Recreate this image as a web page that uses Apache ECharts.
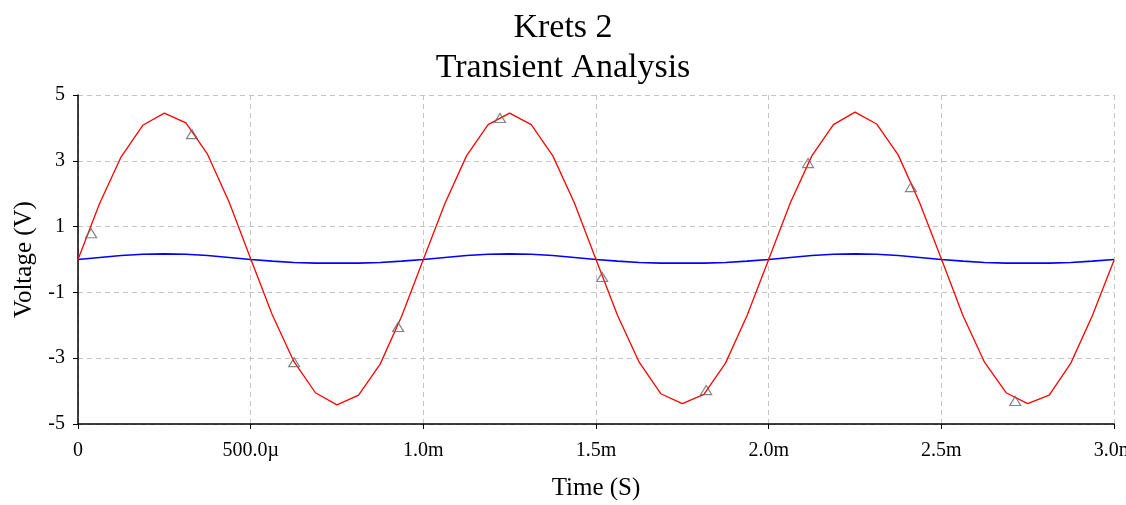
<!DOCTYPE html>
<html>
<head>
<meta charset="utf-8">
<title>Krets 2</title>
<script src="https://cdn.jsdelivr.net/npm/echarts@6/dist/echarts.min.js"></script>
<style>
  html, body { margin: 0; padding: 0; background: #fff; }
  #main { width: 1126px; height: 505px; }
</style>
</head>
<body>
<div id="main"></div>
<script>
// time in ms, one sample every 62.5 us
var times = [0, 0.0625, 0.125, 0.1875, 0.25, 0.3125, 0.375, 0.4375,
  0.5, 0.5625, 0.625, 0.6875, 0.75, 0.8125, 0.875, 0.9375,
  1.0, 1.0625, 1.125, 1.1875, 1.25, 1.3125, 1.375, 1.4375,
  1.5, 1.5625, 1.625, 1.6875, 1.75, 1.8125, 1.875, 1.9375,
  2.0, 2.0625, 2.125, 2.1875, 2.25, 2.3125, 2.375, 2.4375,
  2.5, 2.5625, 2.625, 2.6875, 2.75, 2.8125, 2.875, 2.9375, 3.0]

var redValues = [0.00, 1.70, 3.12, 4.08, 4.45, 4.15, 3.20, 1.75,
  0.02, -1.68, -3.10, -4.05, -4.42, -4.12, -3.18, -1.72,
  0.00, 1.70, 3.15, 4.10, 4.45, 4.10, 3.15, 1.72,
  0.00, -1.70, -3.12, -4.08, -4.38, -4.10, -3.15, -1.70,
  0.00, 1.72, 3.15, 4.10, 4.48, 4.12, 3.18, 1.72,
  0.02, -1.70, -3.12, -4.05, -4.38, -4.12, -3.15, -1.70, -0.02]

var blueValues = [0.00, 0.06, 0.12, 0.16, 0.17, 0.16, 0.12, 0.06,
  0.00, -0.05, -0.09, -0.11, -0.11, -0.11, -0.09, -0.05,
  0.00, 0.06, 0.12, 0.16, 0.17, 0.16, 0.12, 0.06,
  0.00, -0.05, -0.09, -0.11, -0.11, -0.11, -0.09, -0.05,
  0.00, 0.06, 0.12, 0.16, 0.17, 0.16, 0.12, 0.06,
  0.00, -0.05, -0.09, -0.11, -0.11, -0.11, -0.09, -0.05, 0.00]

// triangle markers on the red trace
var markerTimes = [0.038, 0.33, 0.626, 0.927, 1.222, 1.518, 1.819, 2.114, 2.412, 2.714]
var markerValues = [0.8, 3.81, -3.12, -2.05, 4.3, -0.53, -3.97, 2.93, 2.2, -4.3]

var xTickValues = [0, 0.5, 1.0, 1.5, 2.0, 2.5, 3.0]
var xTickLabels = ['0', '500.0\u00b5', '1.0m', '1.5m', '2.0m', '2.5m', '3.0m']
var yTickValues = [-5, -3, -1, 1, 3, 5]

var serif = '"Liberation Serif", "Times New Roman", serif'

var chartDom = document.getElementById('main')
var myChart = echarts.init(chartDom)
var option

option = {
  animation: false,
  title: [
    {
      text: 'Krets 2',
      left: 'center',
      top: 6,
      textStyle: { fontFamily: serif, fontSize: 34, fontWeight: 'normal', color: '#000' }
    },
    {
      text: 'Transient Analysis',
      left: 'center',
      top: 46,
      textStyle: { fontFamily: serif, fontSize: 34, fontWeight: 'normal', color: '#000' }
    }
  ],
  grid: {
    left: 78,
    right: 12,
    top: 95,
    bottom: 81,
    outerBoundsMode: 'none'
  },
  xAxis: {
    type: 'value',
    min: 0,
    max: 3,
    interval: 0.25,
    name: 'Time (S)',
    nameLocation: 'middle',
    nameGap: 52,
    nameTextStyle: { fontFamily: serif, fontSize: 25, color: '#000' },
    axisLine: { onZero: false, lineStyle: { color: '#000', width: 1.5 } },
    axisTick: { customValues: xTickValues, length: 5, lineStyle: { color: '#000' } },
    axisLabel: {
      customValues: xTickValues,
      margin: 17,
      fontFamily: serif,
      fontSize: 20,
      color: '#000',
      formatter: function (v) {
        var i = xTickValues.indexOf(v)
        return i >= 0 ? xTickLabels[i] : ''
      }
    },
    splitLine: { lineStyle: { color: '#c4c4c4', type: [5, 4], width: 1 } }
  },
  yAxis: {
    type: 'value',
    min: -5,
    max: 5,
    interval: 1,
    name: 'Voltage (V)',
    nameLocation: 'middle',
    nameGap: 41,
    nameTextStyle: { fontFamily: serif, fontSize: 25, color: '#000' },
    axisLine: { show: true, onZero: false, lineStyle: { color: '#000', width: 1.5 } },
    axisTick: { show: true, customValues: yTickValues, length: 5, lineStyle: { color: '#000' } },
    axisLabel: {
      customValues: yTickValues,
      margin: 13,
      fontFamily: serif,
      fontSize: 20,
      color: '#000'
    },
    splitLine: { lineStyle: { color: '#c4c4c4', type: [5, 4], width: 1 } }
  },
  series: [
    {
      name: 'red',
      type: 'line',
      showSymbol: false,
      data: times.map(function (t, i) { return [t, redValues[i]] }),
      lineStyle: { color: '#ff0000', width: 1.3 },
      z: 3
    },
    {
      name: 'blue',
      type: 'line',
      showSymbol: false,
      data: times.map(function (t, i) { return [t, blueValues[i]] }),
      lineStyle: { color: '#0000ff', width: 1.6 },
      z: 2
    },
    {
      name: 'markers',
      type: 'scatter',
      symbol: 'triangle',
      symbolSize: [11, 9],
      data: markerTimes.map(function (t, i) { return [t, markerValues[i]] }),
      itemStyle: { color: 'rgba(255,255,255,0)', borderColor: '#666', borderWidth: 1.2 },
      z: 4
    }
  ]
}

option && myChart.setOption(option)
</script>
</body>
</html>
